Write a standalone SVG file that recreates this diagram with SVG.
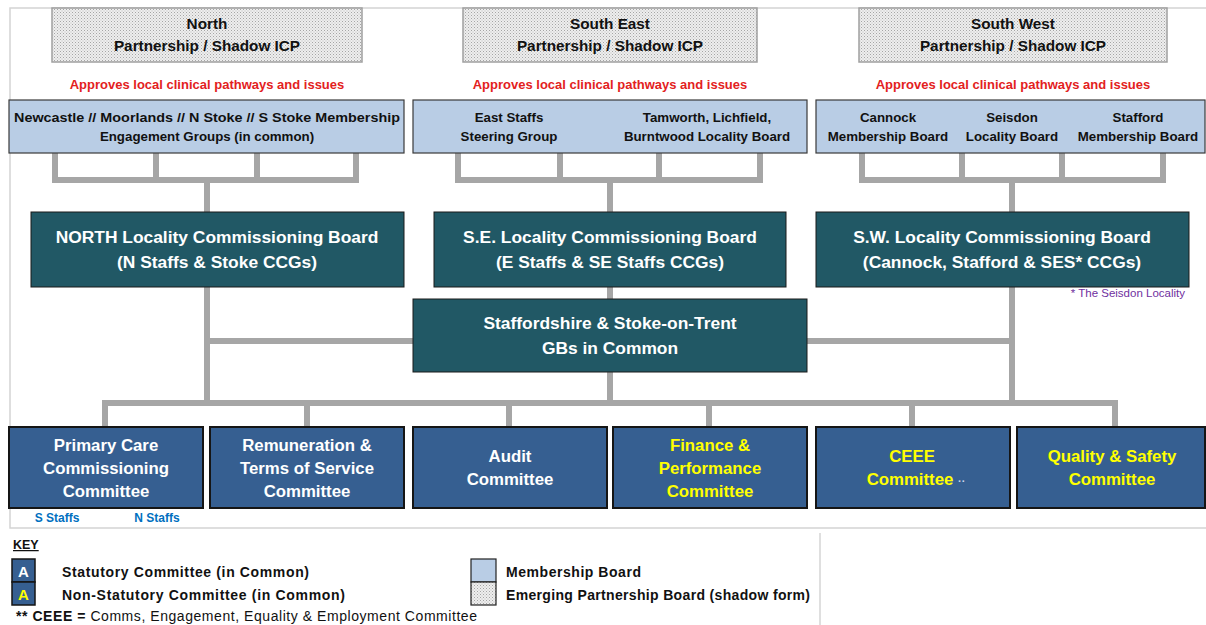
<svg xmlns="http://www.w3.org/2000/svg" width="1206" height="625" viewBox="0 0 1206 625">
<defs>
<pattern id="dots" width="3" height="3" patternUnits="userSpaceOnUse">
<rect width="3" height="3" fill="#eeeeee"/>
<rect x="0" y="0" width="1" height="1" fill="#a5a5a5"/>
<rect x="1.5" y="1.5" width="1" height="1" fill="#bdbdbd"/>
</pattern>
<style>
text{font-family:"Liberation Sans",Arial,sans-serif;font-weight:bold;text-anchor:middle}
.shadow{fill:url(#dots);stroke:#a0a0a0;stroke-width:1.5}
.memb{fill:#b9cde5;stroke:#3a3a3a;stroke-width:1.2}
.loc{fill:#215865;stroke:#1a1a1a;stroke-width:1}
.com{fill:#365f91;stroke:#151515;stroke-width:2}
.t15{font-size:15.3px;fill:#111}
.red{font-size:13px;fill:#e3211d}
.t13{font-size:13.3px;fill:#111}
.wb{font-size:17.4px;fill:#ffffff}
.cw{font-size:16.8px;fill:#ffffff}
.cy{font-size:16.8px;fill:#ffff00}
.conn{fill:none;stroke:#a6a6a6;stroke-width:6;stroke-linejoin:miter}
.key{font-size:14px;fill:#111;text-anchor:start}
</style>
</defs>
<rect width="1206" height="625" fill="#ffffff"/>
<g id="frame" fill="none" stroke="#d4d4d4" stroke-width="1.5">
<path d="M1206 8 H10 V528 H1206"/>
<path d="M820 533 V625"/>
</g>
<g id="connectors" class="conn">
<path d="M55 153 V180 H356 V153 M156 153 V180 M257 153 V180 M207 180 V212"/>
<path d="M458 153 V180 H760 V153 M560 153 V180 M659 153 V180 M610 180 V212"/>
<path d="M862 153 V180 H1163 V153 M962 153 V180 M1062 153 V180 M1012 180 V212"/>
<path d="M207 287 V403 M207 341 H413"/>
<path d="M1012 287 V403 M807 341 H1012"/>
<path d="M610 287 V299 M610 372 V403"/>
<path d="M105 427 V403 H1115 V427 M307 403 V427 M509 403 V427 M709 403 V427 M912 403 V427"/>
</g>
<g id="north-partnership">
<rect class="shadow" x="52" y="8" width="310" height="54"/>
<text class="t15" x="207" y="29">North</text>
<text class="t15" x="207" y="51">Partnership / Shadow ICP</text>
<text class="red" x="207" y="89">Approves local clinical pathways and issues</text>
</g>
<g id="se-partnership">
<rect class="shadow" x="463" y="8" width="294" height="54"/>
<text class="t15" x="610" y="29">South East</text>
<text class="t15" x="610" y="51">Partnership / Shadow ICP</text>
<text class="red" x="610" y="89">Approves local clinical pathways and issues</text>
</g>
<g id="sw-partnership">
<rect class="shadow" x="859" y="8" width="308" height="54"/>
<text class="t15" x="1013" y="29">South West</text>
<text class="t15" x="1013" y="51">Partnership / Shadow ICP</text>
<text class="red" x="1013" y="89">Approves local clinical pathways and issues</text>
</g>
<g id="north-membership">
<rect class="memb" x="9" y="100" width="395" height="53"/>
<text class="t13" x="207" y="122" textLength="386" lengthAdjust="spacingAndGlyphs">Newcastle // Moorlands // N Stoke // S Stoke Membership</text>
<text class="t13" x="207" y="141">Engagement Groups (in common)</text>
</g>
<g id="se-membership">
<rect class="memb" x="413" y="100" width="394" height="53"/>
<text class="t13" x="509" y="122">East Staffs</text>
<text class="t13" x="509" y="141">Steering Group</text>
<text class="t13" x="707" y="122">Tamworth, Lichfield,</text>
<text class="t13" x="707" y="141">Burntwood Locality Board</text>
</g>
<g id="sw-membership">
<rect class="memb" x="816" y="100" width="389" height="53"/>
<text class="t13" x="888" y="122">Cannock</text>
<text class="t13" x="888" y="141">Membership Board</text>
<text class="t13" x="1012" y="122">Seisdon</text>
<text class="t13" x="1012" y="141">Locality Board</text>
<text class="t13" x="1138" y="122">Stafford</text>
<text class="t13" x="1138" y="141">Membership Board</text>
</g>
<g id="north-lcb">
<rect class="loc" x="31" y="212" width="373" height="75"/>
<text class="wb" x="217" y="243">NORTH Locality Commissioning Board</text>
<text class="wb" x="217" y="268">(N Staffs &amp; Stoke CCGs)</text>
</g>
<g id="se-lcb">
<rect class="loc" x="434" y="212" width="352" height="75"/>
<text class="wb" x="610" y="243">S.E. Locality Commissioning Board</text>
<text class="wb" x="610" y="268">(E Staffs &amp; SE Staffs CCGs)</text>
</g>
<g id="sw-lcb">
<rect class="loc" x="816" y="212" width="373" height="75"/>
<text class="wb" x="1002" y="243">S.W. Locality Commissioning Board</text>
<text class="wb" x="1002" y="268">(Cannock, Stafford &amp; SES* CCGs)</text>
<text x="1185" y="297" style="font-size:11.5px;font-weight:normal;fill:#7030a0;text-anchor:end">* The Seisdon Locality</text>
</g>
<g id="gbs">
<rect class="loc" x="413" y="299" width="394" height="73"/>
<text class="wb" x="610" y="329">Staffordshire &amp; Stoke-on-Trent</text>
<text class="wb" x="610" y="354">GBs in Common</text>
</g>
<g id="primary-care">
<rect class="com" x="9" y="427" width="194" height="81"/>
<text class="cw" x="106" y="451">Primary Care</text>
<text class="cw" x="106" y="474">Commissioning</text>
<text class="cw" x="106" y="497">Committee</text>
<text x="57" y="522" style="font-size:12px;fill:#0070c0">S Staffs</text>
<text x="157" y="522" style="font-size:12px;fill:#0070c0">N Staffs</text>
</g>
<g id="remuneration">
<rect class="com" x="210" y="427" width="194" height="81"/>
<text class="cw" x="307" y="451">Remuneration &amp;</text>
<text class="cw" x="307" y="474">Terms of Service</text>
<text class="cw" x="307" y="497">Committee</text>
</g>
<g id="audit">
<rect class="com" x="413" y="427" width="194" height="81"/>
<text class="cw" x="510" y="462">Audit</text>
<text class="cw" x="510" y="485">Committee</text>
</g>
<g id="finance">
<rect class="com" x="613" y="427" width="194" height="81"/>
<text class="cy" x="710" y="451">Finance &amp;</text>
<text class="cy" x="710" y="474">Performance</text>
<text class="cy" x="710" y="497">Committee</text>
</g>
<g id="ceee">
<rect class="com" x="816" y="427" width="194" height="81"/>
<text class="cy" x="912" y="462">CEEE</text>
<text class="cy" x="916" y="485">Committee <tspan style="font-size:11px;fill:#c8d4e8">··</tspan></text>
</g>
<g id="quality">
<rect class="com" x="1017" y="427" width="188" height="81"/>
<text class="cy" x="1112" y="462">Quality &amp; Safety</text>
<text class="cy" x="1112" y="485">Committee</text>
</g>
<g id="key">
<text class="key" x="13" y="549" style="font-size:12.5px;text-decoration:underline">KEY</text>
<rect x="12" y="559" width="23" height="23" fill="#365f91" stroke="#151515" stroke-width="1.5"/>
<rect x="12" y="582" width="23" height="23" fill="#365f91" stroke="#151515" stroke-width="1.5"/>
<text x="23.5" y="577" style="font-size:15px;fill:#ffffff">A</text>
<text x="23.5" y="600" style="font-size:15px;fill:#ffff00">A</text>
<text class="key" x="62" y="577" textLength="247" lengthAdjust="spacing">Statutory Committee (in Common)</text>
<text class="key" x="62" y="600" textLength="283" lengthAdjust="spacing">Non-Statutory Committee (in Common)</text>
<rect x="471" y="559" width="25" height="23" fill="#b9cde5" stroke="#222" stroke-width="1.2"/>
<rect x="471" y="582" width="25" height="23" fill="url(#dots)" stroke="#222" stroke-width="1.2"/>
<text class="key" x="506" y="577" textLength="135" lengthAdjust="spacing">Membership Board</text>
<text class="key" x="506" y="600" textLength="304" lengthAdjust="spacing">Emerging Partnership Board (shadow form)</text>
<text class="key" x="16" y="621" textLength="461" lengthAdjust="spacing">** CEEE = <tspan style="font-weight:normal">Comms, Engagement, Equality &amp; Employment Committee</tspan></text>
</g>
</svg>
